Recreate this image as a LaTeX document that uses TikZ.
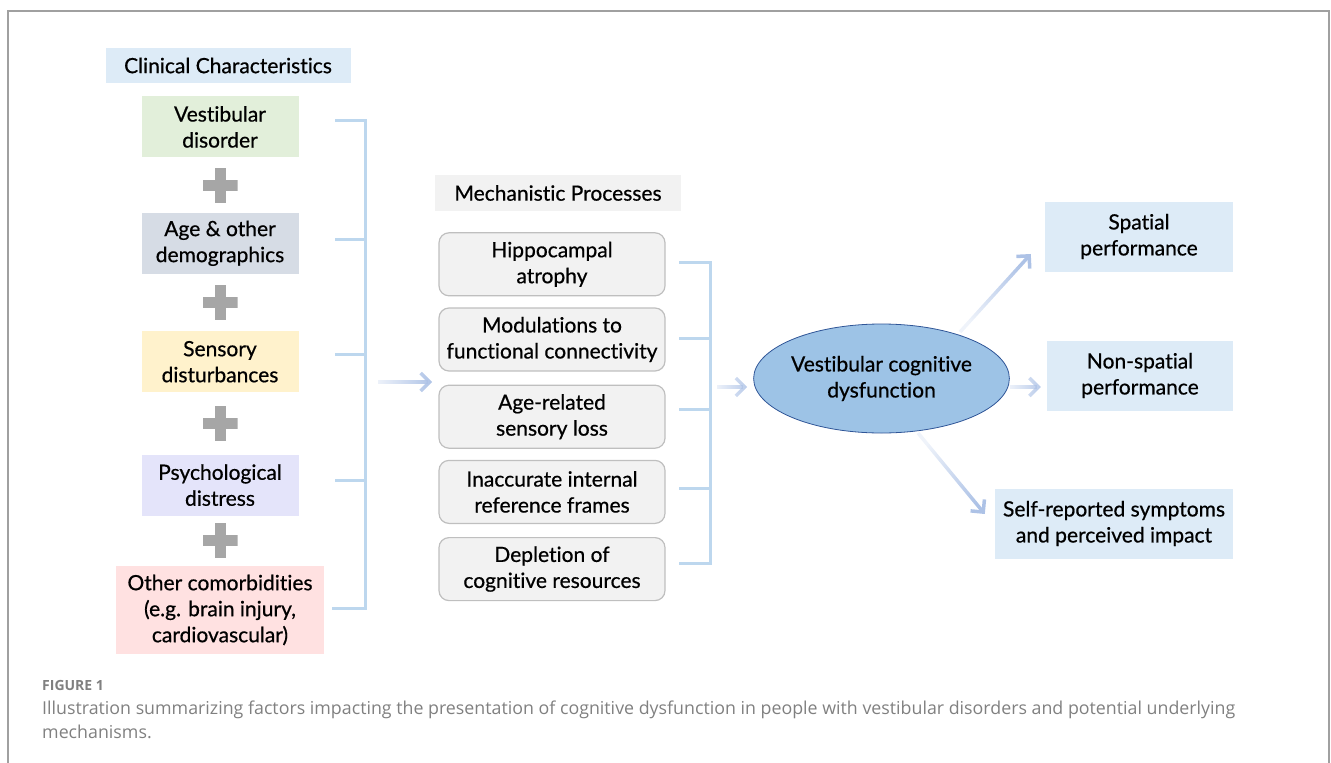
\documentclass[tikz,border=0pt]{standalone}
\usepackage{fontspec}
\setmainfont{Lato}[Ligatures={NoCommon}, FakeBold=0.6]
\newfontfamily\capfont{Open Sans}
\usepackage{xcolor}
\usetikzlibrary{positioning, shapes.geometric, arrows.meta, calc, fadings}

\definecolor{hdrblue}{HTML}{DDEBF7}
\definecolor{vdgreen}{HTML}{E2EFDA}
\definecolor{agegray}{HTML}{D6DCE5}
\definecolor{sensorange}{HTML}{FFF2CC}
\definecolor{psylav}{HTML}{E4E4FA}
\definecolor{othpink}{HTML}{FFE1E1}
\definecolor{mechfill}{HTML}{F2F2F2}
\definecolor{mechline}{HTML}{BFBFBF}
\definecolor{vcdfill}{HTML}{9DC3E6}
\definecolor{vcdline}{HTML}{2F5597}
\definecolor{brkblue}{HTML}{BDD7EE}
\definecolor{flowblue}{HTML}{ADC2E6}
\definecolor{plusgray}{HTML}{A6A6A6}
\definecolor{framegray}{HTML}{A0A0A0}
\definecolor{capgray}{HTML}{808080}

\tikzfading[name=tailfade, left color=transparent!80, right color=transparent!0]

\begin{document}
\begin{tikzpicture}[x=1pt, y=-1pt,
  font=\fontsize{21}{26}\selectfont,
  hdr/.style={rectangle, fill=#1, inner sep=0pt, align=center},
  factor/.style={rectangle, fill=#1, inner sep=0pt, align=center,
    minimum width=157pt, minimum height=61pt},
  plussign/.style={minimum size=35pt, inner sep=0pt,
    path picture={
      \fill[plusgray] ([yshift=-5.5pt]path picture bounding box.west)
        rectangle ([yshift=5.5pt]path picture bounding box.east);
      \fill[plusgray] ([xshift=-5.5pt]path picture bounding box.north)
        rectangle ([xshift=5.5pt]path picture bounding box.south);}},
  mech/.style={rectangle, rounded corners=10pt, draw=mechline, fill=mechfill,
    line width=1.2pt, inner sep=0pt, align=center,
    minimum width=226pt, minimum height=63pt},
  vcd/.style={ellipse, draw=vcdline, fill=vcdfill, line width=0.8pt,
    inner sep=0pt, align=center, minimum width=209pt, minimum height=109pt},
  outcome/.style={rectangle, fill=hdrblue, inner sep=0pt, align=center,
    minimum height=70pt},
  bracket/.style={draw=brkblue, line width=3pt},
  flow/.style={-{Straight Barb[length=9pt, width=18pt]}, draw=flowblue,
    line width=3.5pt, path fading=tailfade, fading angle=#1},
  flow/.default=0,
  figlabel/.style={font=\capfont\fontsize{14}{16}\selectfont\bfseries,
    text=capgray, inner sep=0pt},
  caption/.style={font=\capfont\fontsize{17.8}{24}\selectfont,
    text=capgray, inner sep=0pt, align=left}
]
  \useasboundingbox (0,0) rectangle (1331,763);
  \draw[framegray, line width=1.5pt] (8,763) -- (8,11) -- (1329,11) -- (1329,763);

  % clinical characteristics
  \node[hdr=hdrblue, minimum width=245pt, minimum height=35pt] (cc) at (228,65.5)
    {Clinical Characteristics};
  \node[factor=vdgreen, below=13pt of cc, xshift=-8pt] (vd) {Vestibular\\disorder};
  \node[factor=agegray, below=55pt of vd] (age) {Age \& other\\demographics};
  \node[factor=sensorange, below=57pt of age] (sens) {Sensory\\disturbances};
  \node[factor=psylav, below=62pt of sens] (psy) {Psychological\\distress};
  \node[factor=othpink, minimum width=208pt, minimum height=88pt, below=50pt of psy]
    (oth) {Other comorbidities\\(e.g. brain injury,\\cardiovascular)};

  \foreach \a/\b/\n in {vd/age/1, age/sens/2, sens/psy/3, psy/oth/4}
    \node[plussign] (p\n) at ($(\a.south)!0.5!(\b.north)$) {};

  \draw[bracket] (335,120) -| (365,608) -- (332,608);
  \foreach \y in {239,354,480}
    \draw[bracket] (335,\y) -- (365,\y);

  % the two moves give a flat arrow some height for its fading
  \coordinate (in1) at (378,382);
  \coordinate (out1) at (432,382);
  \draw[flow] ([yshift=12pt]in1) ([yshift=-12pt]in1) (in1) -- (out1);

  % mechanistic processes
  \node[hdr=mechfill, minimum width=246pt, minimum height=36pt] (mp) at (558,193)
    {Mechanistic Processes};
  \node[mech, below=21pt of mp, xshift=-6pt] (m1) {Hippocampal\\atrophy};
  \node[mech, below=11pt of m1] (m2) {Modulations to\\functional connectivity};
  \node[mech, below=13pt of m2] (m3) {Age-related\\sensory loss};
  \node[mech, below=11pt of m3] (m4) {Inaccurate internal\\reference frames};
  \node[mech, below=13pt of m4] (m5) {Depletion of\\cognitive resources};

  \draw[bracket] (679,262) -| (710,563) -- (679,563);
  \foreach \y in {338,409,488}
    \draw[bracket] (679,\y) -- (710,\y);

  % outcome
  \node[vcd] (vcd) at (881.5,378.5) {Vestibular cognitive\\dysfunction};
  \coordinate (in2) at (717,387);
  \draw[flow, shorten >=6pt] ([yshift=12pt]in2) ([yshift=-12pt]in2)
    (in2) -- (in2 -| vcd.west);

  \node[outcome, minimum width=188pt] (sp) at (1139,236.5) {Spatial\\performance};
  \node[outcome, minimum width=186pt] (ns) at (1140,375.5) {Non-spatial\\performance};
  \node[outcome, minimum width=238pt] (sr) at (1114,523.5)
    {Self-reported symptoms\\and perceived impact};

  \draw[flow=48] ([xshift=78.5pt, yshift=46.5pt]vcd.center)
    -- ([xshift=-14pt, yshift=-17.5pt]sp.west);
  \draw[flow, shorten >=6pt] ([yshift=3.5pt]vcd.east) ([yshift=-20.5pt]vcd.east)
    ([yshift=-8.5pt]vcd.east) -- ([yshift=-11.5pt]ns.west);
  \draw[flow=-50] ([xshift=36.5pt, yshift=-54.5pt]vcd.center)
    -- ([xshift=-10pt, yshift=9.5pt]sr.west);

  % caption
  \node[figlabel, anchor=base west] (fig) at (42,690) {FIGURE 1};
  \node[caption, anchor=north west] (capt) at (42,701)
    {Illustration summarizing factors impacting the presentation of cognitive dysfunction in people with vestibular disorders and potential underlying\\mechanisms.};
\end{tikzpicture}
\end{document}
